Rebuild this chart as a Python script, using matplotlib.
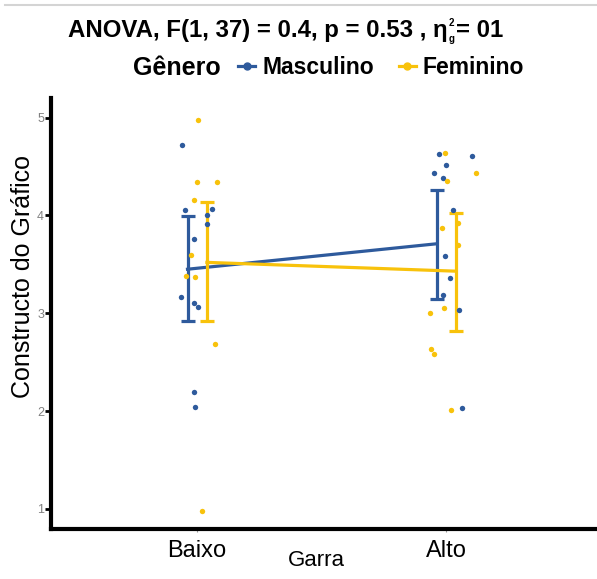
import matplotlib.pyplot as plt
from matplotlib.lines import Line2D

plt.rcParams['font.family'] = ['Liberation Sans', 'DejaVu Sans']

# niveis de Garra e generos
garra = ['Baixo', 'Alto']
generos = ['Masculino', 'Feminino']
cores = {'Masculino': '#2E5A9C', 'Feminino': '#F8C20B'}

# medias e limites dos intervalos
media_masc = [3.45, 3.71]
inf_masc = [2.92, 3.15]
sup_masc = [3.99, 4.26]
media_fem = [3.52, 3.43]
inf_fem = [2.92, 2.82]
sup_fem = [4.14, 4.02]

# observacoes individuais (valor, deslocamento horizontal)
masc_baixo = [4.72, 4.06, 4.07, 4.00, 3.91, 3.76, 3.17, 3.10, 3.06, 2.20, 2.04]
masc_baixo_jit = [-0.06, -0.048, 0.06, 0.04, 0.04, -0.012, -0.064, -0.012, 0.004, -0.012, -0.008]
fem_baixo = [4.98, 4.34, 4.34, 4.16, 3.60, 3.38, 3.37, 2.69, 0.98]
fem_baixo_jit = [0.004, 0.0, 0.08, -0.012, -0.024, -0.044, -0.008, 0.072, 0.02]
masc_alto = [4.63, 4.52, 4.43, 4.38, 4.61, 4.06, 3.59, 3.36, 3.19, 3.03, 2.03]
masc_alto_jit = [-0.028, 0.0, -0.048, -0.012, 0.104, 0.028, -0.004, 0.016, -0.012, 0.052, 0.064]
fem_alto = [4.64, 4.35, 4.43, 3.87, 3.92, 3.70, 3.00, 3.05, 2.63, 2.58, 2.01]
fem_alto_jit = [-0.004, 0.004, 0.12, -0.016, 0.048, 0.048, -0.064, -0.008, -0.06, -0.048, 0.02]

fig = plt.figure(figsize=(5.97, 5.79), dpi=100)
ax = fig.add_axes([51 / 597, 50 / 579, 546 / 597, 431 / 579])

# linha cinza fina no topo (borda da captura)
fig.add_artist(Line2D([5 / 597, 1], [1 - 5 / 579, 1 - 5 / 579],
                      color='#d4d4d4', lw=1.5))

pos = [1, 2]
dodge = {'Masculino': -0.038, 'Feminino': 0.04}

pontos = {
    'Masculino': [(masc_baixo, masc_baixo_jit), (masc_alto, masc_alto_jit)],
    'Feminino': [(fem_baixo, fem_baixo_jit), (fem_alto, fem_alto_jit)],
}
for g in generos:
    for p, (vals, jit) in zip(pos, pontos[g]):
        ax.scatter([p + j for j in jit], vals, s=15, color=cores[g],
                   linewidths=0, zorder=3)

resumo = {
    'Masculino': (media_masc, inf_masc, sup_masc),
    'Feminino': (media_fem, inf_fem, sup_fem),
}
for g in generos:
    m, lo, hi = resumo[g]
    xs = [p + dodge[g] for p in pos]
    ax.plot(xs, m, color=cores[g], lw=2.3, zorder=2)
    err = [[a - b for a, b in zip(m, lo)], [b - a for a, b in zip(m, hi)]]
    ax.errorbar(xs, m, yerr=err, fmt='none', ecolor=cores[g], elinewidth=2.3,
                capsize=5, capthick=2.3, zorder=2)

ax.set_xlim(0.414, 2.606)
ax.set_ylim(0.795, 5.2)
ax.set_xticks(pos)
ax.set_xticklabels(garra, fontsize=17)
ax.set_yticks([1, 2, 3, 4, 5])
ax.tick_params(axis='y', labelsize=9, labelcolor='#808080', length=4, width=2,
               pad=1)
ax.tick_params(axis='x', length=2, width=0.8, color='#999999', pad=6)
for s in ['top', 'right']:
    ax.spines[s].set_visible(False)
for s in ['left', 'bottom']:
    ax.spines[s].set_linewidth(3)

ax.set_xlabel('Garra', fontsize=16)
ax.xaxis.set_label_coords((316 - 51) / 546, -0.049)
ax.set_ylabel('Constructo do Gráfico', fontsize=18)
ax.yaxis.set_label_coords(-0.029, (579 - 276 - 50) / 431)

# titulo com eta ao quadrado g montado a mao
r = fig.canvas.get_renderer()
W, H = fig.bbox.width, fig.bbox.height
ty = 1 - 37 / 579
t1 = fig.text(68 / 597, ty, 'ANOVA, F(1, 37) = 0.4, p = 0.53 , η',
              ha='left', va='baseline', fontsize=17.3, fontweight='bold')
x1 = t1.get_window_extent(r).x1 + 1
fig.text(x1 / W, ty + 11 / H, '2', ha='left', va='baseline', fontsize=7,
         fontweight='bold')
fig.text(x1 / W, ty - 5 / H, 'g', ha='left', va='baseline', fontsize=7,
         fontweight='bold')
fig.text((x1 + 7) / W, ty, '= 01', ha='left', va='baseline', fontsize=17.3,
         fontweight='bold')

fig.text(133 / 597, 1 - 68 / 579, 'Gênero', ha='left', va='center',
         fontsize=18, fontweight='bold')
handles = [Line2D([], [], color=cores[g], lw=2.3, marker='o', markersize=5)
           for g in generos]
fig.legend(handles, generos, loc='center left', ncol=2, frameon=False,
           bbox_to_anchor=(238 / 597, 1 - 68 / 579),
           prop={'size': 16.5, 'weight': 'bold'},
           handlelength=0.75, handletextpad=0.3, columnspacing=1.1,
           borderaxespad=0, borderpad=0)

fig.savefig('out.png', dpi=100)
